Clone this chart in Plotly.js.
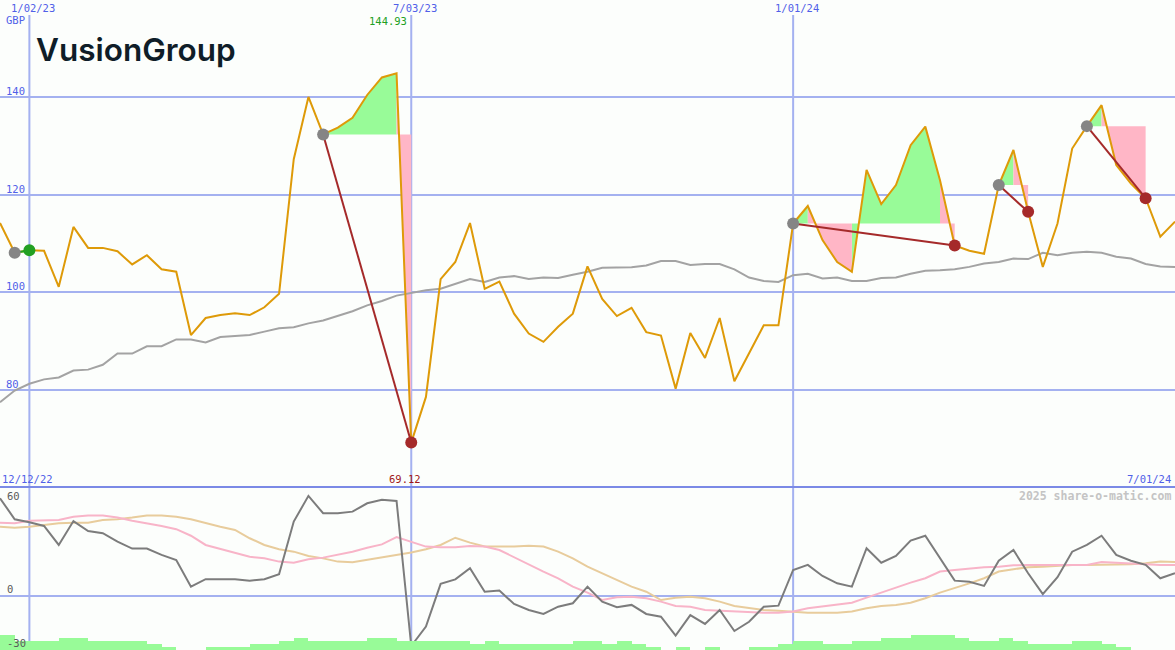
<!DOCTYPE html>
<html>
<head>
<meta charset="utf-8">
<script src="https://cdn.plot.ly/plotly-3.0.1.min.js"></script>
<style>
  html, body { margin: 0; padding: 0; background: #fcfefc; }
  #chart { width: 1175px; height: 650px; }
</style>
</head>
<body>
<div id="chart"></div>
<script>
// ---------------- DATA ----------------
const dates = [
  '2022-12-19','2022-12-26','2023-01-02','2023-01-09','2023-01-16','2023-01-23','2023-01-30','2023-02-06',
  '2023-02-13','2023-02-20','2023-02-27','2023-03-06','2023-03-13','2023-03-20','2023-03-27','2023-04-03',
  '2023-04-10','2023-04-17','2023-04-24','2023-05-01','2023-05-08','2023-05-15','2023-05-22','2023-05-29',
  '2023-06-05','2023-06-12','2023-06-19','2023-06-26','2023-07-03','2023-07-10','2023-07-17','2023-07-24',
  '2023-07-31','2023-08-07','2023-08-14','2023-08-21','2023-08-28','2023-09-04','2023-09-11','2023-09-18',
  '2023-09-25','2023-10-02','2023-10-09','2023-10-16','2023-10-23','2023-10-30','2023-11-06','2023-11-13',
  '2023-11-20','2023-11-27','2023-12-04','2023-12-11','2023-12-18','2023-12-25','2024-01-01','2024-01-08',
  '2024-01-15','2024-01-22','2024-01-29','2024-02-05','2024-02-12','2024-02-19','2024-02-26','2024-03-04',
  '2024-03-11','2024-03-18','2024-03-25','2024-04-01','2024-04-08','2024-04-15','2024-04-22','2024-04-29',
  '2024-05-06','2024-05-13','2024-05-20','2024-05-27','2024-06-03','2024-06-10','2024-06-17','2024-06-24',
  '2024-07-01'
];

const price = [
  114.2,108.1,108.6,108.5,101.1,113.4,109.1,109.1,108.4,105.7,107.6,104.7,104.2,91.2,94.7,95.3,
  95.7,95.3,96.9,99.7,127.3,140.1,132.4,133.8,135.8,140.5,144.1,144.93,69.12,78.5,102.7,106.2,
  114.2,100.7,102.2,95.6,91.5,89.8,92.9,95.6,105.3,98.6,95.1,96.8,91.8,91.1,80.2,91.6,
  86.5,94.7,81.7,87.4,93.2,93.2,114.1,117.7,110.7,106.2,104.2,125.1,118.1,122.0,130.2,134.0,
  123.0,109.6,108.5,107.9,122.0,129.2,116.5,105.2,114.1,129.5,134.1,138.4,126.1,122.3,119.3,111.4,
  114.5
];

const movingAvg = [
  77.4,79.8,81.2,82.1,82.5,83.9,84.1,85.1,87.4,87.4,88.9,88.9,90.3,90.3,89.7,90.8,
  91.0,91.2,91.9,92.6,92.8,93.6,94.2,95.2,96.1,97.3,98.2,99.3,99.9,100.4,100.7,101.7,
  102.7,102.1,103.0,103.3,102.7,103.0,102.9,103.6,104.2,105.0,105.1,105.1,105.5,106.4,106.4,105.6,
  105.8,105.8,104.7,103.0,102.3,102.1,103.5,103.8,102.8,103.0,102.3,102.3,102.9,103.0,103.8,104.4,
  104.5,104.7,105.2,105.9,106.2,106.9,106.8,108.1,107.6,108.1,108.3,108.1,107.3,106.9,105.8,105.3,
  105.2
];

const oscMain = [
  53.8,42.2,40.5,38.5,28.0,41.2,35.7,34.5,29.8,26.0,26.0,22.5,19.7,5.0,9.1,9.1,
  9.1,8.3,9.1,11.8,40.9,55.1,45.5,45.5,46.4,51.0,53.0,52.3,-27.8,-17.1,6.5,9.0,
  15.1,2.2,2.8,-4.6,-7.9,-10.1,-6.1,-4.2,5.0,-3.3,-6.4,-5.1,-10.1,-11.6,-22.1,-10.7,
  -15.6,-7.9,-19.5,-14.4,-6.1,-5.5,14.2,17.0,10.9,6.8,5.0,26.2,18.2,21.9,30.4,33.1,
  20.6,8.3,7.7,5.4,19.3,25.2,12.4,0.9,10.2,24.3,28.0,33.1,22.5,19.3,17.0,9.6,
  12.4
];

const oscPink = [
  40.3,40.0,41.4,41.8,41.8,43.6,44.2,44.2,43.1,41.4,40.0,38.5,36.7,33.1,28.0,25.8,
  23.4,21.5,20.6,18.8,18.2,20.1,21.0,22.5,24.3,26.5,28.3,32.3,29.8,27.1,26.7,26.7,
  27.4,27.1,25.2,21.2,17.0,13.3,9.6,5.0,1.7,-2.4,-0.9,-0.6,-1.4,-3.3,-5.7,-6.1,
  -7.9,-8.3,-8.8,-9.2,-9.4,-9.4,-8.8,-7.0,-6.1,-5.1,-3.9,-1.1,1.7,4.1,7.2,9.6,
  13.3,14.2,15.1,15.7,16.0,16.8,17.0,17.0,17.0,17.0,17.0,18.6,18.2,17.5,17.0,17.0,
  17.0
];

const oscTan = [
  38.1,37.5,38.1,39.0,40.0,40.3,40.3,41.8,42.2,43.1,44.2,44.2,43.6,42.2,40.0,38.1,
  36.3,31.7,28.0,25.6,24.3,21.9,20.6,18.8,18.4,19.7,21.2,22.5,23.8,25.6,28.0,32.0,
  29.3,27.1,27.1,27.1,27.6,27.1,24.3,20.6,16.0,12.4,8.7,5.0,2.2,-2.4,-1.1,-0.6,
  -1.4,-3.3,-5.7,-7.0,-7.9,-8.3,-8.8,-9.4,-9.4,-9.4,-8.8,-7.0,-5.7,-5.1,-3.9,-1.4,
  1.7,4.1,6.8,9.6,13.3,14.6,15.7,16.0,16.6,17.0,17.0,17.0,17.3,17.3,17.9,18.8,
  18.6
];

const volume = [
  5,3,3,3,4,4,3,3,3,3,2,1,0,0,1,1,
  1,2,2,3,4,3,3,3,3,4,4,3,3,3,3,3,
  2,3,2,2,2,2,2,3,3,2,3,2,1,0,1,0,
  1,0,0,1,1,2,3,3,2,2,3,3,4,4,5,5,
  5,4,3,3,4,3,2,2,2,3,3,2,1,0,0,0,
  0
];

// trades: entry index, exit index
const tradeEntry = [1, 22, 54, 68, 74];
const tradeExit  = [2, 28, 65, 70, 78];

const priceTicks = [80, 100, 120, 140];
const oscTicks = [0];
const oscLabels = [60, 0, -30];
const xTicks = ['2023-01-02', '2023-07-03', '2024-01-01'];
const xTickText = ['1/02/23', '7/03/23', '1/01/24'];
const xStartText = '12/12/22';
const xEndText = '7/01/24';
const xRange = ['2022-12-19', '2024-07-01'];

// ---------------- STYLE ----------------
const W = 1175, H = 650;
const lowerH = 163;
const splitFrac = lowerH / H;
const gridBlue = '#a4b1f0';
const sepBlue = '#7b8ae6';
const labelBlue = '#5060e8';
const mono = 'DejaVu Sans Mono';
const FS = 10.5;
const GREEN_FILL = '#98fb98';
const PINK_FILL = '#ffb6c6';
const LOSS = '#a52a2a';
const WIN = '#22a022';

const traces = [];

// fill polygons between price line and entry level, per segment
const gX = [], gY = [], pX = [], pY = [];
tradeEntry.forEach((e, k) => {
  const x = tradeExit[k];
  const E = price[e];
  for (let i = e; i < x; i++) {
    const up = price[i + 1] >= E;
    const X = up ? gX : pX, Y = up ? gY : pY;
    X.push(dates[i], dates[i], dates[i + 1], dates[i + 1], dates[i], null);
    Y.push(E, price[i], price[i + 1], E, E, null);
  }
});
traces.push({x: gX, y: gY, type: 'scatter', mode: 'lines', fill: 'toself', fillcolor: GREEN_FILL,
  line: {width: 0, color: GREEN_FILL}, hoverinfo: 'skip', xaxis: 'x', yaxis: 'y'});
traces.push({x: pX, y: pY, type: 'scatter', mode: 'lines', fill: 'toself', fillcolor: PINK_FILL,
  line: {width: 0, color: PINK_FILL}, hoverinfo: 'skip', xaxis: 'x', yaxis: 'y'});

// moving average
traces.push({x: dates, y: movingAvg, type: 'scatter', mode: 'lines',
  line: {color: '#a3a3a3', width: 2}, xaxis: 'x', yaxis: 'y', hoverinfo: 'skip'});
// price
traces.push({x: dates, y: price, type: 'scatter', mode: 'lines',
  line: {color: '#de9a08', width: 2}, xaxis: 'x', yaxis: 'y'});

// trade lines
tradeEntry.forEach((e, k) => {
  const x = tradeExit[k];
  const win = price[x] >= price[e];
  traces.push({x: [dates[e], dates[x]], y: [price[e], price[x]], type: 'scatter', mode: 'lines',
    line: {color: win ? WIN : LOSS, width: 2}, xaxis: 'x', yaxis: 'y', hoverinfo: 'skip'});
});
// entry markers
traces.push({x: tradeEntry.map(i => dates[i]), y: tradeEntry.map(i => price[i]), type: 'scatter',
  mode: 'markers', marker: {color: '#858585', size: 12}, xaxis: 'x', yaxis: 'y'});
// exit markers
traces.push({x: tradeExit.map(i => dates[i]), y: tradeExit.map(i => price[i]), type: 'scatter',
  mode: 'markers', marker: {color: tradeExit.map((x, k) => price[x] >= price[tradeEntry[k]] ? WIN : LOSS), size: 12},
  xaxis: 'x', yaxis: 'y'});

// lower panel
traces.push({x: dates, y: volume, type: 'bar', offset: 0, width: 7 * 86400000,
  marker: {color: GREEN_FILL, line: {width: 0}}, xaxis: 'x', yaxis: 'y3', hoverinfo: 'skip'});
traces.push({x: dates, y: oscTan, type: 'scatter', mode: 'lines',
  line: {color: '#e8cc9c', width: 2}, xaxis: 'x', yaxis: 'y2'});
traces.push({x: dates, y: oscPink, type: 'scatter', mode: 'lines',
  line: {color: '#f8b4c8', width: 2}, xaxis: 'x', yaxis: 'y2'});
traces.push({x: dates, y: oscMain, type: 'scatter', mode: 'lines',
  line: {color: '#7c7c7c', width: 2}, xaxis: 'x', yaxis: 'y2'});

// ---------------- ANNOTATIONS ----------------
const ann = [];
const txt = (text, x, y, opts) => Object.assign({text, x, y, xref: 'paper', yref: 'paper',
  showarrow: false, font: {family: mono, size: FS, color: labelBlue}, xanchor: 'left', yanchor: 'middle'}, opts || {});

xTicks.forEach((d, i) => ann.push({text: xTickText[i], x: d, xref: 'x', y: 1 - 8 / H, yref: 'paper',
  showarrow: false, xanchor: 'center', yanchor: 'middle', xshift: 4, font: {family: mono, size: FS, color: labelBlue}}));
ann.push(txt('GBP', 4 / W, 1 - 20 / H));
priceTicks.forEach(v => ann.push({text: String(v), x: 4 / W, xref: 'paper', y: v, yref: 'y', yanchor: 'bottom',
  xanchor: 'left', showarrow: false, yshift: -2, font: {family: mono, size: FS, color: labelBlue}}));
ann.push(txt(xStartText, 0, 1 - 479 / H));
ann.push(txt(xEndText, 1 - 2 / W, 1 - 479 / H, {xanchor: 'right'}));
ann.push(txt('2025 share-o-matic.com', 1 - 2 / W, 1 - 496 / H,
  {xanchor: 'right', font: {family: mono, size: 11.5, color: '#c4c4c4', weight: 'bold'}}));
oscLabels.forEach(v => {
  let y = v === 60 ? 1 - 496 / H : (v === 0 ? 1 - 589 / H : 1 - 643 / H);
  ann.push(txt(String(v), 5 / W, y, {font: {family: mono, size: FS, color: '#5a5a5a'}}));
});
// max / min labels
const maxV = Math.max(...price), minV = Math.min(...price);
const maxI = price.indexOf(maxV), minI = price.indexOf(minV);
ann.push({text: maxV.toFixed(2), x: dates[maxI], xref: 'x', y: 1 - 21 / H, yref: 'paper', showarrow: false,
  xanchor: 'right', yanchor: 'middle', xshift: 12, font: {family: mono, size: FS, color: WIN}});
ann.push({text: minV.toFixed(2), x: dates[minI], xref: 'x', y: 1 - 479 / H, yref: 'paper', showarrow: false,
  xanchor: 'center', yanchor: 'middle', xshift: -6, font: {family: mono, size: FS, color: '#a01818'}});
// logo
ann.push({text: 'VusionGroup', x: 34 / W, y: 1 - 49 / H, xref: 'paper', yref: 'paper', showarrow: false,
  xanchor: 'left', yanchor: 'middle', font: {family: 'Inter', size: 31.5, color: '#0f1d28', weight: 600}});

// ---------------- SHAPES ----------------
const shapes = [];
xTicks.forEach(d => shapes.push({type: 'line', xref: 'x', yref: 'paper', x0: d, x1: d, y0: 0, y1: 1 - 15 / H,
  line: {color: gridBlue, width: 2}, layer: 'below'}));
shapes.push({type: 'line', xref: 'paper', yref: 'paper', x0: 0, x1: 1, y0: splitFrac, y1: splitFrac,
  line: {color: sepBlue, width: 2}, layer: 'below'});

const layout = {
  width: W, height: H,
  margin: {l: 0, r: 0, t: 0, b: 0, pad: 0},
  paper_bgcolor: '#fcfefc', plot_bgcolor: '#fcfefc',
  showlegend: false,
  bargap: 0,
  xaxis: {type: 'date', range: xRange, showgrid: false, zeroline: false, showticklabels: false,
    ticks: '', anchor: 'y2', fixedrange: true, showline: false},
  yaxis: {domain: [splitFrac, 1], range: [60, 160], tickvals: priceTicks, showgrid: true,
    gridcolor: gridBlue, gridwidth: 2, zeroline: false, showticklabels: false, ticks: '', fixedrange: true},
  yaxis2: {domain: [0, splitFrac], range: [-30, 60], tickvals: oscTicks, showgrid: true,
    gridcolor: gridBlue, gridwidth: 2, zeroline: false, showticklabels: false, ticks: '', fixedrange: true},
  yaxis3: {overlaying: 'y2', range: [0, lowerH / 3], visible: false, fixedrange: true},
  annotations: ann,
  shapes: shapes
};

Plotly.newPlot('chart', traces, layout, {staticPlot: true, displayModeBar: false});
</script>
</body>
</html>
